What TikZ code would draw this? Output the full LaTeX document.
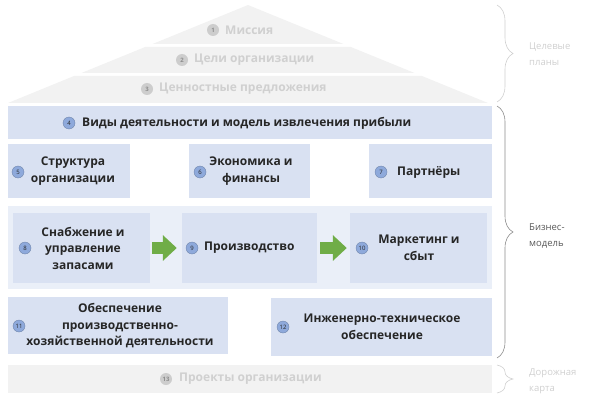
\documentclass[tikz,border=0pt]{standalone}
\usepackage{fontspec}
\setmainfont{Open Sans}
\usetikzlibrary{decorations.pathreplacing,arrows.meta}
\definecolor{boxblue}{HTML}{D9E1F2}
\definecolor{bandblue}{HTML}{EAEFF8}
\definecolor{numblue}{HTML}{8EA9DB}
\definecolor{fadefill}{HTML}{F2F2F2}
\definecolor{fadetext}{HTML}{D0D0D0}
\definecolor{fadenum}{HTML}{CDCDCD}
\definecolor{fadenumtxt}{HTML}{8C8C8C}
\definecolor{txt}{HTML}{262626}
\definecolor{sidetxt}{HTML}{595959}
\definecolor{bracecol}{HTML}{8C8C8C}
\definecolor{arrowgreen}{HTML}{70AD47}
\tikzset{
  box/.style={fill=boxblue, draw=none, inner sep=0pt},
  fadebox/.style={fill=fadefill, draw=none, inner sep=0pt},
  boxtext/.style={inner sep=0pt, font=\bfseries\fontsize{12}{16.5}\selectfont, text=txt, align=center},
  fadetxt/.style={inner sep=0pt, font=\bfseries\fontsize{12}{16}\selectfont, text=fadetext, align=center},
  num/.style={circle, fill=numblue, draw=numblue!75!black, line width=0.3pt, inner sep=0pt, minimum size=12pt, font=\fontsize{6}{6}\selectfont, text=txt},
  fadenumber/.style={circle, fill=fadenum, draw=none, inner sep=0pt, minimum size=12pt, font=\bfseries\fontsize{6}{6}\selectfont, text=fadenumtxt},
  flow/.style={line width=12pt, arrowgreen, -{Triangle[width=25pt,length=14pt]}},
  bracegray/.style={decorate, decoration={brace, amplitude=16pt}, draw=bracecol, line width=0.6pt},
  bracefade/.style={decorate, decoration={brace, amplitude=16pt}, draw=fadetext, line width=0.6pt},
  side/.style={inner sep=0pt, anchor=west, align=left, font=\fontsize{9.5}{15.5}\selectfont},
}
\begin{document}
\begin{tikzpicture}[x=1pt,y=-1pt]
\path[use as bounding box] (0,0) rectangle (591,401);

% pyramid
\fill[fadefill] (248,5) -- (343.5,44) -- (152.5,44) -- cycle;
\fill[fadefill] (145.1,47) -- (350.9,47) -- (414.6,73) -- (81.4,73) -- cycle;
\fill[fadefill] (74,76) -- (422,76) -- (488,103) -- (8,103) -- cycle;
\node[fadenumber] (n1) at (213,30) {1};
\node[fadetxt, anchor=west] (t1) at (225,30) {Миссия};
\node[fadenumber] (n2) at (182,60) {2};
\node[fadetxt, anchor=west] (t2) at (194,60) {Цели организации};
\node[fadenumber] (n3) at (147,89) {3};
\node[fadetxt, anchor=west] (t3) at (159,89) {Ценностные предложения};

% row 4
\node[box, minimum width=484pt, minimum height=33pt] (b4) at (250,122.5) {};
\node[num] (n4) at (69,123) {4};
\node[boxtext, anchor=west] (t4) at (82,123) {Виды деятельности и модель извлечения прибыли};

% row 5-7
\node[box, minimum width=122pt, minimum height=54pt] (b5) at (69,171) {};
\node[num] (n5) at (18,172) {5};
\node[boxtext] (t5) at (73,171) {Структура\\организации};
\node[box, minimum width=121pt, minimum height=54pt] (b6) at (249.5,171) {};
\node[num] (n6) at (200,172) {6};
\node[boxtext] (t6) at (251,171) {Экономика и\\финансы};
\node[box, minimum width=123pt, minimum height=54pt] (b7) at (430.5,171) {};
\node[num] (n7) at (381,172) {7};
\node[boxtext, anchor=west] (t7) at (397,172) {Партнёры};

% row 8-10
\node[fill=bandblue, draw=none, inner sep=0pt, minimum width=484pt, minimum height=83pt] (band) at (250,247.5) {};
\node[box, minimum width=137pt, minimum height=70pt] (b8) at (81.5,248) {};
\node[num] (n8) at (25,248) {8};
\node[boxtext] (t8) at (83,248) {Снабжение и\\управление\\запасами};
\node[box, minimum width=135pt, minimum height=70pt] (b9) at (249.5,248) {};
\node[num] (n9) at (192,248) {9};
\node[boxtext, anchor=west] (t9) at (204,248) {Производство};
\node[box, minimum width=137pt, minimum height=70pt] (b10) at (418.5,248) {};
\node[num] (n10) at (362,248) {10};
\node[boxtext] (t10) at (419,248) {Маркетинг и\\сбыт};
\draw[flow] ([xshift=2pt]b8.east) -- ([xshift=-5pt]b9.west);
\draw[flow] ([xshift=3pt]b9.east) -- ([xshift=-3pt]b10.west);

% row 11-12
\node[box, minimum width=220pt, minimum height=57pt] (b11) at (118,325.5) {};
\node[num] (n11) at (19,326) {11};
\node[boxtext] (t11) at (120,326) {Обеспечение\\производственно-\\хозяйственной деятельности};
\node[box, minimum width=221pt, minimum height=58pt] (b12) at (381.5,327) {};
\node[num] (n12) at (283,327) {12};
\node[boxtext] (t12) at (382,327) {Инженерно-техническое\\обеспечение};

% row 13
\node[fadebox, minimum width=484pt, minimum height=28pt] (b13) at (250,379) {};
\node[fadenumber] (n13) at (166,379) {13};
\node[fadetxt, anchor=west] (t13) at (179,379) {Проекты организации};

% brackets
\coordinate (c1a) at (497,5);
\coordinate (c1b) at (497,102);
\coordinate (c2a) at (497,106);
\coordinate (c2b) at (497,358);
\coordinate (c3a) at (497,365);
\coordinate (c3b) at (497,393);
\draw[bracefade] (c1a) -- (c1b);
\draw[bracegray] (c2a) -- (c2b);
\draw[bracefade] (c3a) -- (c3b);
\node[side, text=fadetext] (l1) at (529,54) {Целевые\\планы};
\node[side, text=sidetxt] (l2) at (529,236) {Бизнес-\\модель};
\node[side, text=fadetext] (l3) at (529,381) {Дорожная\\карта};
\end{tikzpicture}
\end{document}
